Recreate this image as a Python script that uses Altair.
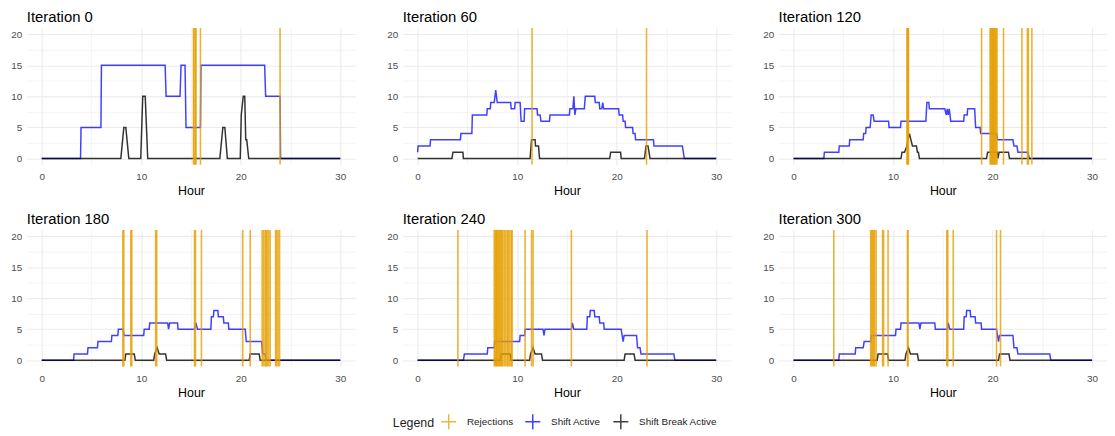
import altair as alt
import pandas as pd

ITERATIONS = [0, 60, 120, 180, 240, 300]

# (hour, active shifts) breakpoints
shift_active = {
    0: [(0, 0), (3.9, 0), (3.95, 5), (5.95, 5), (6.0, 15), (12.4, 15), (12.5, 10), (13.9, 10),
        (14.0, 15), (14.4, 15), (14.5, 5), (15.95, 5), (16.0, 15), (22.4, 15), (22.5, 10),
        (23.95, 10), (24.0, 0), (30, 0)],
    60: [(0, 1), (0.05, 2), (1.25, 2), (1.3, 3), (4.3, 3), (4.35, 4), (5.45, 4), (5.5, 7),
         (6.95, 7), (7.0, 8), (7.3, 8), (7.35, 9), (7.7, 9), (7.85, 11), (8.0, 9), (9.35, 9),
         (9.4, 8), (9.75, 8), (9.8, 9), (10.3, 9), (10.4, 6), (10.7, 6), (10.75, 8), (12.0, 8),
         (12.05, 7), (12.3, 7), (12.4, 6), (13.25, 6), (13.3, 7), (15.25, 7), (15.3, 8),
         (15.6, 8), (15.7, 10), (15.8, 7), (15.9, 8), (16.75, 8), (16.8, 9), (16.85, 10),
         (17.8, 10), (17.85, 9), (18.25, 9), (18.3, 8), (18.5, 8), (18.6, 9), (18.7, 8),
         (20.2, 8), (20.25, 7), (20.6, 7), (20.65, 6), (20.85, 6), (20.9, 5), (21.6, 5),
         (21.65, 4), (21.85, 4), (21.9, 3), (23.7, 3), (23.75, 2), (26.6, 2), (26.8, 0), (30, 0)],
    120: [(0, 0), (3.05, 0), (3.1, 1), (4.55, 1), (4.6, 2), (5.6, 2), (5.65, 3), (7.0, 3),
          (7.05, 4), (7.25, 4), (7.3, 5), (7.7, 5), (7.8, 7), (8.0, 7), (8.1, 6), (9.55, 6),
          (9.6, 5), (10.75, 5), (10.8, 6), (13.3, 6), (13.4, 9), (13.6, 9), (13.65, 8),
          (15.2, 8), (15.35, 7), (15.45, 8), (15.55, 7), (15.65, 8), (15.8, 6), (17.1, 6),
          (17.15, 7), (17.45, 7), (17.5, 8), (18.2, 8), (18.3, 5), (18.75, 5), (18.8, 4),
          (20.4, 4), (20.5, 3), (22.05, 3), (22.15, 2), (22.45, 2), (22.55, 1), (23.55, 1),
          (23.7, 0), (30, 0)],
    180: [(0, 0), (3.2, 0), (3.25, 1), (4.6, 1), (4.65, 2), (5.6, 2), (5.65, 3), (7.0, 3),
          (7.05, 4), (7.65, 4), (7.7, 5), (8.15, 5), (8.3, 4), (10.25, 4), (10.3, 5), (10.8, 5),
          (10.85, 6), (12.65, 6), (12.75, 5), (12.85, 6), (13.65, 6), (13.7, 5), (15.35, 5),
          (15.5, 6), (15.65, 5), (17.0, 5), (17.05, 7), (17.25, 7), (17.3, 8), (17.7, 8),
          (17.75, 7), (18.25, 7), (18.3, 6), (18.75, 6), (18.8, 5), (20.45, 5), (20.55, 3),
          (22.1, 3), (22.2, 1), (22.45, 1), (22.55, 0), (30, 0)],
    240: [(0, 0), (4.6, 0), (4.7, 1), (7.0, 1), (7.05, 2), (7.7, 2), (7.75, 3), (10.25, 3),
          (10.3, 4), (10.75, 4), (10.8, 5), (12.6, 5), (12.7, 4), (12.8, 5), (15.45, 5),
          (15.55, 6), (15.7, 5), (17.0, 5), (17.05, 7), (17.3, 7), (17.35, 8), (17.75, 8),
          (17.8, 7), (18.25, 7), (18.3, 6), (18.7, 6), (18.75, 5), (20.45, 5), (20.65, 3),
          (20.75, 4), (22.0, 4), (22.1, 2), (22.35, 2), (22.45, 1), (25.75, 1), (25.85, 0), (30, 0)],
    300: [(0, 0), (4.55, 0), (4.6, 1), (6.2, 1), (6.25, 2), (7.0, 2), (7.1, 3), (7.75, 3),
          (7.8, 4), (10.25, 4), (10.3, 5), (10.75, 5), (10.8, 6), (12.6, 6), (12.7, 5),
          (12.8, 6), (14.2, 6), (14.25, 5), (15.45, 5), (15.55, 6), (15.7, 5), (17.1, 5),
          (17.15, 7), (17.35, 7), (17.4, 8), (17.75, 8), (17.8, 7), (18.25, 7), (18.3, 6),
          (18.85, 6), (18.9, 5), (20.4, 5), (20.6, 3), (20.7, 4), (22.05, 4), (22.15, 2),
          (22.45, 2), (22.55, 1), (25.75, 1), (25.85, 0), (30, 0)],
}

# (hour, active shift breaks) breakpoints
shift_break_active = {
    0: [(0, 0), (7.95, 0), (8.25, 5), (8.45, 5), (8.75, 0), (9.95, 0), (10.15, 10), (10.4, 10),
        (10.65, 0), (17.9, 0), (18.2, 5), (18.4, 5), (18.65, 0), (19.95, 0), (20.05, 7),
        (20.25, 10), (20.4, 10), (20.5, 3), (20.6, 3), (20.8, 0), (30, 0)],
    60: [(0, 0), (3.45, 0), (3.55, 1), (4.55, 1), (4.6, 0), (11.3, 0), (11.45, 3), (11.8, 3),
         (11.85, 2), (12.15, 2), (12.25, 0), (19.3, 0), (19.4, 1), (20.4, 1), (20.45, 0),
         (22.8, 0), (22.95, 2), (23.15, 2), (23.35, 0), (30, 0)],
    120: [(0, 0), (10.8, 0), (10.9, 1), (11.15, 1), (11.4, 2), (11.5, 3), (11.65, 4), (11.8, 3),
          (11.95, 2), (12.35, 2), (12.45, 1), (12.55, 1), (12.65, 0), (19.4, 0), (19.5, 1),
          (20.45, 1), (20.55, 0), (20.65, 1), (21.6, 1), (21.7, 0), (30, 0)],
    180: [(0, 0), (8.35, 0), (8.45, 1), (9.3, 1), (9.4, 0), (11.25, 0), (11.35, 1), (11.6, 2),
          (11.8, 1), (12.45, 1), (12.55, 0), (20.85, 0), (20.95, 1), (21.85, 1), (21.95, 0), (30, 0)],
    240: [(0, 0), (8.3, 0), (8.4, 1), (9.3, 1), (9.4, 0), (11.25, 0), (11.35, 1), (11.6, 2),
          (11.8, 1), (12.45, 1), (12.55, 0), (20.75, 0), (20.85, 1), (21.75, 1), (21.85, 0), (30, 0)],
    300: [(0, 0), (8.4, 0), (8.5, 1), (9.45, 1), (9.55, 0), (11.2, 0), (11.3, 1), (11.55, 2),
          (11.75, 1), (12.45, 1), (12.55, 0), (20.6, 0), (20.7, 1), (21.65, 1), (21.75, 0), (30, 0)],
}

# hours of rejections
rejections = {
    0: [15.25, 15.3, 15.45, 15.5, 15.95, 23.95],
    60: [11.5, 23.0],
    120: [11.4, 11.45, 11.5, 11.55, 18.9, 19.75, 19.82, 19.9, 19.97, 20.05, 20.12, 20.2, 20.28,
          20.35, 20.45, 21.1, 22.95, 23.5, 23.6, 23.95],
    180: [8.15, 8.25, 8.95, 9.05, 11.45, 11.55, 15.35, 15.45, 16.05, 20.2, 20.95, 22.15, 22.3,
          22.45, 22.55, 22.65, 22.8, 22.95, 23.5, 23.6, 23.75, 23.9],
    240: [4.05, 7.7, 7.8, 7.9, 7.95, 8.05, 8.15, 8.25, 8.35, 8.45, 8.55, 8.7, 8.85, 9.0, 9.1,
          9.25, 9.4, 9.5, 10.8, 11.45, 11.6, 15.45, 23.05],
    300: [4.05, 7.75, 7.85, 7.95, 8.05, 8.15, 8.3, 8.95, 9.05, 9.5, 11.45, 11.5, 15.4, 15.5,
          16.05, 20.4, 20.8],
}

SERIES = ["Rejections", "Shift Active", "Shift Break Active"]
COLORS = ["#E69F00", "#0000FF", "#000000"]
X_TICKS = [0, 5, 10, 15, 20, 25, 30]
Y_TICKS = [0, 2.5, 5, 7.5, 10, 12.5, 15, 17.5, 20]

FONT = "Liberation Sans"

x_axis = alt.Axis(
    values=X_TICKS,
    labelExpr="datum.value % 10 === 0 ? datum.label : ''",
    grid=True, gridColor="#EBEBEB",
    gridWidth={"condition": {"test": "datum.value % 10 === 0", "value": 1.1}, "value": 0.55},
    ticks=False, domain=False,
    labelColor="#4D4D4D", labelFontSize=10, labelPadding=7, labelFont=FONT,
    titleFontSize=12.5, titleFontWeight="normal", titleColor="black", titlePadding=3,
    titleFont=FONT,
)
y_axis = alt.Axis(
    values=Y_TICKS,
    labelExpr="datum.value % 5 === 0 ? datum.label : ''",
    grid=True, gridColor="#EBEBEB",
    gridWidth={"condition": {"test": "datum.value % 5 === 0", "value": 1.1}, "value": 0.55},
    ticks=False, domain=False,
    labelColor="#4D4D4D", labelFontSize=10, labelPadding=5, labelFont=FONT,
)

color_scale = alt.Scale(domain=SERIES, range=COLORS)
legend = alt.Legend(
    title="Legend", orient="none", legendX=370, legendY=389,
    direction="horizontal", titleOrient="left",
    symbolType="M-1,0L1,0M0,-1L0,1", symbolSize=230, symbolStrokeWidth=1.5,
    symbolFillColor="transparent",
    labelFontSize=10, labelFont=FONT, labelColor="#222222", labelOffset=10,
    titleFontSize=12.5, titleFontWeight="normal", titleFont=FONT, titleColor="#222222",
    titlePadding=6, columnPadding=8,
)


def series_df(points, name):
    return pd.DataFrame({
        "hour": [p[0] for p in points],
        "value": [p[1] for p in points],
        "series": name,
        "idx": list(range(len(points))),
    })


def panel(it):
    xs = alt.Scale(domain=[-1.5, 31.5], nice=False, zero=False)
    ys = alt.Scale(domain=[-1, 21], nice=False, zero=False)
    x = alt.X("hour:Q", scale=xs, axis=x_axis, title="Hour")
    y = alt.Y("value:Q", scale=ys, axis=y_axis, title=None)
    color = alt.Color("series:N", scale=color_scale, legend=legend)

    shift = alt.Chart(series_df(shift_active[it], "Shift Active")).mark_line(
        strokeWidth=1.5, opacity=0.75
    ).encode(x=x, y=y, color=color, order="idx:Q")
    brk = alt.Chart(series_df(shift_break_active[it], "Shift Break Active")).mark_line(
        strokeWidth=1.5, opacity=0.8
    ).encode(x=x, y=y, color=color, order="idx:Q")
    rej = alt.Chart(pd.DataFrame({"hour": rejections[it], "series": "Rejections"})).mark_rule(
        strokeWidth=1.6, opacity=0.8
    ).encode(x=x, color=color)

    return alt.layer(shift, brk, rej).properties(
        width=332, height=138,
        title=alt.TitleParams(
            f"Iteration {it}", anchor="start", frame="group", fontSize=15,
            fontWeight="normal", font=FONT, color="black", offset=2,
        ),
    )


row1 = alt.hconcat(*[panel(i) for i in ITERATIONS[:3]], spacing=31)
row2 = alt.hconcat(*[panel(i) for i in ITERATIONS[3:]], spacing=31)

chart = alt.vconcat(row1, row2, spacing=15).resolve_scale(color="shared").properties(
    padding={"left": 2, "top": 0, "right": 0, "bottom": 0},
    background="white",
).configure_view(stroke=None)

chart.save("out.html", embed_options={"renderer": "svg", "actions": False})
